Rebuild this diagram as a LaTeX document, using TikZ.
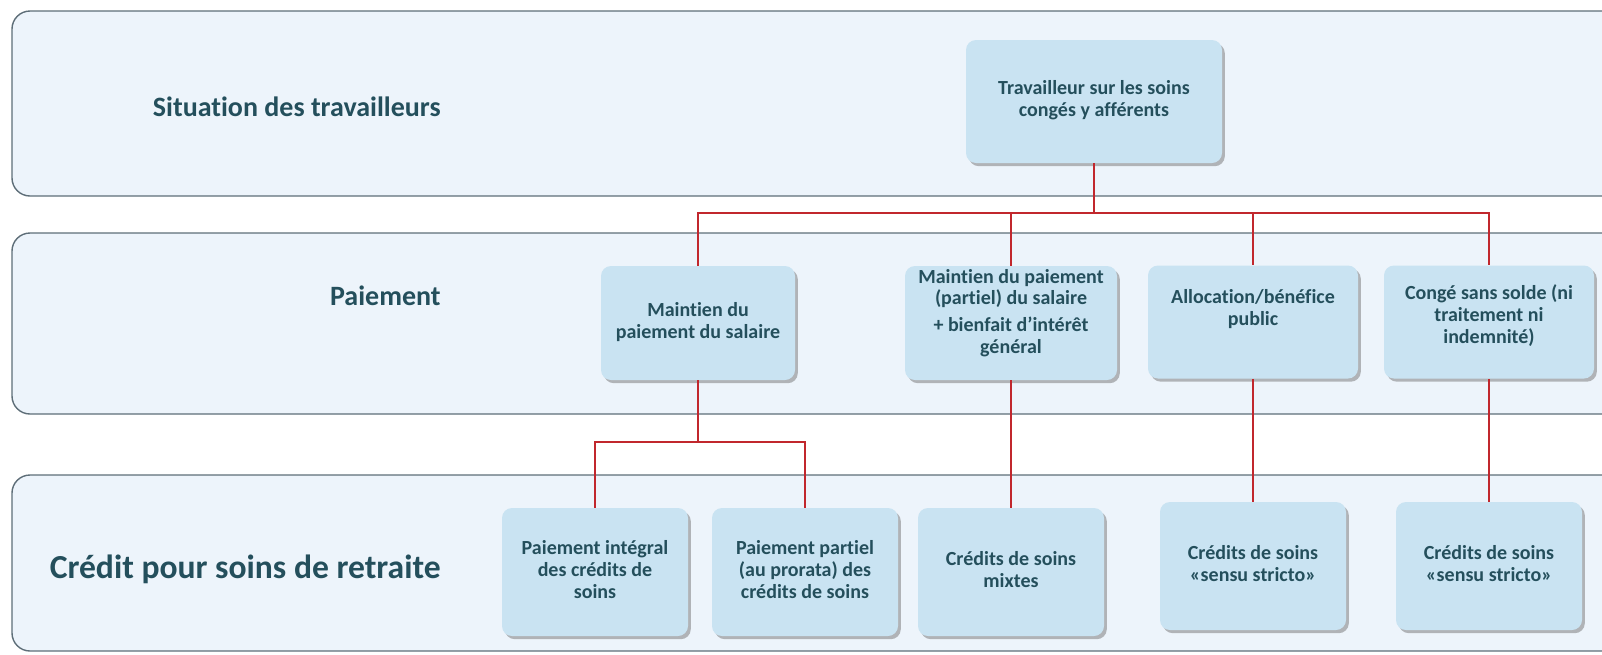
\documentclass[tikz,border=0pt]{standalone}
\usepackage{fontspec}
\setmainfont{Carlito}[Ligatures=NoCommon]
\usepackage{xcolor}
\usetikzlibrary{positioning,calc,shadows}
\definecolor{bandfill}{HTML}{EDF4FB}
\definecolor{bandline}{HTML}{5E6E78}
\definecolor{cardfill}{HTML}{C9E3F2}
\definecolor{inkdark}{HTML}{244F5C}
\definecolor{linkred}{HTML}{C1272D}

% text of a card, optionally lifted
\newcommand{\cardtext}[2][0pt]{\raisebox{#1}[\height][\depth]{\begin{tabular}{@{}c@{}}#2\end{tabular}}}

\tikzset{
  band/.style={draw=bandline, line width=0.7pt, fill=bandfill, rounded corners=9pt},
  level/.style={anchor=east, inner sep=0pt, text=inkdark, font=\fontsize{14}{16}\selectfont\bfseries},
  card/.style={fill=cardfill, rounded corners=5pt, inner sep=0pt, text=inkdark,
    font=\fontsize{10}{10.9}\selectfont\bfseries,
    drop shadow={shadow xshift=1.4pt, shadow yshift=-1.6pt, fill=black!60, opacity=0.45}},
  link/.style={draw=linkred, line width=1.3pt},
}

\begin{document}
\begin{tikzpicture}[x=0.5pt, y=-0.5pt]
  \useasboundingbox (0,0) rectangle (1602,654);
  \clip (0,0) rectangle (1602,654);

  % bands
  \draw[band] (12,11) rectangle (1650,196);
  \draw[band] (12,233) rectangle (1650,414);
  \draw[band] (12,475) rectangle (1650,651);

  \node[level] (lvlsit) at (441,107) {Situation des travailleurs};
  \node[level] (lvlpay) at (441,296) {Paiement};
  \node[level, font=\fontsize{16.8}{18}\selectfont\bfseries] (lvlcred) at (441,569) {Crédit pour soins de retraite};

  % top
  \node[card, minimum width=128pt, minimum height=61.5pt] (work) at (1094,101.5)
    {\cardtext{Travailleur sur les soins\\congés y afférents}};

  % payment
  \node[card, minimum width=97pt, minimum height=57pt] (maint) at (698,323)
    {\cardtext{Maintien du\\paiement du salaire}};
  \node[card, minimum width=106pt, minimum height=57pt] (partiel) at (1011,323)
    {\cardtext[4.5pt]{Maintien du paiement\\(partiel) du salaire\\[2.5pt]+ bienfait d'intérêt\\général}};
  \node[card, minimum width=105pt, minimum height=56.5pt] (alloc) at (1253,322)
    {\cardtext[6pt]{Allocation/bénéfice\\public}};
  \node[card, minimum width=105pt, minimum height=56.5pt] (conge) at (1489,322)
    {\cardtext[2.5pt]{Congé sans solde (ni\\traitement ni\\indemnité)}};

  % credits
  \node[card, minimum width=93pt, minimum height=64pt] (integral) at (595,572)
    {\cardtext{Paiement intégral\\des crédits de\\soins}};
  \node[card, minimum width=93pt, minimum height=64pt] (prorata) at (805,572)
    {\cardtext{Paiement partiel\\(au prorata) des\\crédits de soins}};
  \node[card, minimum width=93pt, minimum height=64pt] (mixtes) at (1011,572)
    {\cardtext{Crédits de soins\\mixtes}};
  \node[card, minimum width=93pt, minimum height=64pt] (stricta) at (1253,566)
    {\cardtext{Crédits de soins\\«sensu stricto»}};
  \node[card, minimum width=93pt, minimum height=64pt] (strictb) at (1489,566)
    {\cardtext{Crédits de soins\\«sensu stricto»}};

  % connectors
  \coordinate (bustop) at (1094,213);
  \coordinate (busmid) at (698,442);
  \draw[link] (work.south) -- (bustop);
  \draw[link] (bustop) -| (maint.north);
  \draw[link] (bustop) -| (partiel.north);
  \draw[link] (bustop) -| (alloc.north);
  \draw[link] (bustop) -| (conge.north);
  \draw[link] (maint.south) -- (busmid);
  \draw[link] (busmid) -| (integral.north);
  \draw[link] (busmid) -| (prorata.north);
  \draw[link] (partiel.south) -- (mixtes.north);
  \draw[link] (alloc.south) -- (stricta.north);
  \draw[link] (conge.south) -- (strictb.north);
\end{tikzpicture}
\end{document}
